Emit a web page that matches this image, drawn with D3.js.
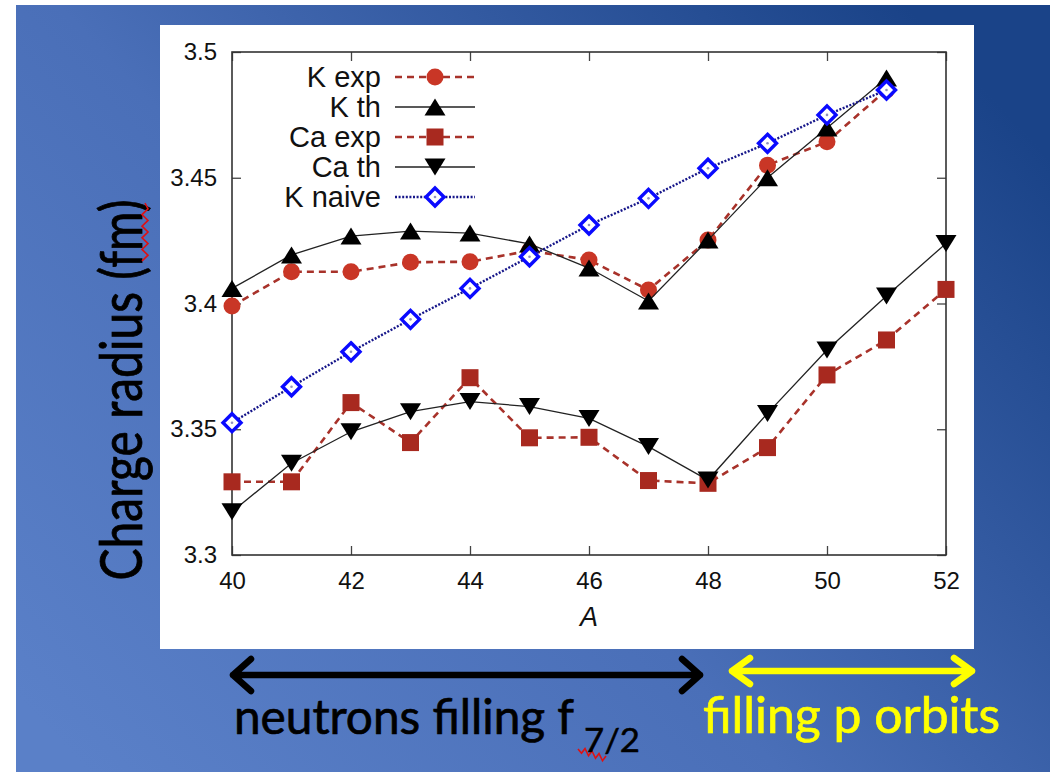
<!DOCTYPE html>
<html>
<head>
<meta charset="utf-8">
<script src="https://cdn.jsdelivr.net/npm/d3@7"></script>
<style>
  body { margin: 0; background: #fff; }
  svg { display: block; }
</style>
</head>
<body>
<svg id="chart" width="1050" height="772"></svg>
<script>
// mass numbers A
var kA  = [40, 41, 42, 43, 44, 45, 46, 47, 48, 49, 50, 51];
var caA = [40, 41, 42, 43, 44, 45, 46, 47, 48, 49, 50, 51, 52];

// charge radii (fm)
var kExp   = [3.399, 3.4126, 3.4126, 3.4164, 3.4166, 3.421, 3.4173, 3.4054, 3.4252, 3.455, 3.4643, 3.4849];
var kTh    = [3.406, 3.4193, 3.4268, 3.4288, 3.428, 3.4237, 3.4141, 3.401, 3.4252, 3.45, 3.4698, 3.4897];
var caExp  = [3.3291, 3.3291, 3.3606, 3.3447, 3.3705, 3.3466, 3.3468, 3.3296, 3.3285, 3.3427, 3.3716, 3.3855, 3.4056];
var caTh   = [3.3172, 3.3365, 3.349, 3.357, 3.361, 3.359, 3.3543, 3.3431, 3.3298, 3.3563, 3.3815, 3.403, 3.4239];
var kNaive = [3.3526, 3.3669, 3.3808, 3.3937, 3.406, 3.4186, 3.4312, 3.4418, 3.4538, 3.4637, 3.475, 3.4849];

var xTicks = [40, 42, 44, 46, 48, 50, 52];
var yTicks = [3.3, 3.35, 3.4, 3.45, 3.5];
var yTickLabels = ["3.3", "3.35", "3.4", "3.45", "3.5"];
var legendNames = ["K exp", "K th", "Ca exp", "Ca th", "K naive"];

/*
 * series styles, in gnuplot drawing order
 */
var series = [
  { name: legendNames[0], a: kA,  v: kExp,   marker: "circle",  line: "dash" },
  { name: legendNames[1], a: kA,  v: kTh,    marker: "up",      line: "solid" },
  { name: legendNames[2], a: caA, v: caExp,  marker: "square",  line: "dash" },
  { name: legendNames[3], a: caA, v: caTh,   marker: "down",    line: "solid" },
  { name: legendNames[4], a: kA,  v: kNaive, marker: "diamond", line: "dot" }
];

var lineStyle = {
  dash:  { stroke: "#a8322a", width: 2.6, dash: "7,5" },
  solid: { stroke: "#222",    width: 1.3, dash: null },
  dot:   { stroke: "#16168a", width: 2.4, dash: "2,1.6" }
};

var svg = d3.select("#chart");

// slide background
var defs = svg.append("defs");
var grad = defs.append("linearGradient").attr("id", "slide")
  .attr("x1", 0).attr("y1", 0.9).attr("x2", 1).attr("y2", 0.2);
grad.append("stop").attr("offset", 0).attr("stop-color", "#5a80c8");
grad.append("stop").attr("offset", 0.45).attr("stop-color", "#4a6fb8");
grad.append("stop").attr("offset", 1).attr("stop-color", "#1a4388");

svg.append("rect").attr("x", 16).attr("y", 5).attr("width", 1034).attr("height", 767)
  .attr("fill", "url(#slide)");

// white plot panel
svg.append("rect").attr("x", 160).attr("y", 25).attr("width", 814).attr("height", 624)
  .attr("fill", "#fff");

var margin = { left: 232, right: 946, top: 52, bottom: 555 };

var x = d3.scaleLinear().domain([40, 52]).range([margin.left, margin.right]);
var y = d3.scaleLinear().domain([3.3, 3.5]).range([margin.bottom, margin.top]);

var g = svg.append("g").attr("font-family", "'Liberation Sans', Arial, sans-serif");

// axes with inward ticks on all four sides
function styleAxis(sel) {
  sel.select(".domain").remove();
  sel.selectAll(".tick line").attr("stroke", "#444").attr("stroke-width", 1.3);
  sel.selectAll(".tick text").attr("fill", "#111").attr("font-size", 24);
}

g.append("g").attr("transform", "translate(0," + margin.bottom + ")")
  .call(d3.axisBottom(x).tickValues(xTicks).tickFormat(d3.format("d"))
    .tickSizeInner(-9).tickSizeOuter(0).tickPadding(17))
  .call(styleAxis);

g.append("g").attr("transform", "translate(0," + margin.top + ")")
  .call(d3.axisTop(x).tickValues(xTicks).tickFormat("")
    .tickSizeInner(-9).tickSizeOuter(0))
  .call(styleAxis);

g.append("g").attr("transform", "translate(" + margin.left + ",0)")
  .call(d3.axisLeft(y).tickValues(yTicks).tickFormat(function (d, i) { return yTickLabels[i]; })
    .tickSizeInner(-9).tickSizeOuter(0).tickPadding(15))
  .call(styleAxis);

g.append("g").attr("transform", "translate(" + margin.right + ",0)")
  .call(d3.axisRight(y).tickValues(yTicks).tickFormat("")
    .tickSizeInner(-9).tickSizeOuter(0))
  .call(styleAxis);

g.append("rect")
  .attr("x", margin.left).attr("y", margin.top)
  .attr("width", margin.right - margin.left).attr("height", margin.bottom - margin.top)
  .attr("fill", "none").attr("stroke", "#333").attr("stroke-width", 1.6);

g.append("text")
  .attr("x", (margin.left + margin.right) / 2).attr("y", 626)
  .attr("text-anchor", "middle").attr("font-size", 27).attr("font-style", "italic")
  .attr("fill", "#111").text("A");

// markers
function drawMarker(sel, type, cx, cy) {
  if (type == "circle") {
    sel.append("circle").attr("cx", cx).attr("cy", cy).attr("r", 8.5).attr("fill", "#c93626");
  } else if (type == "square") {
    sel.append("rect").attr("x", cx - 8.5).attr("y", cy - 8.5).attr("width", 17).attr("height", 17)
      .attr("fill", "#a8291f");
  } else if (type == "up") {
    sel.append("path").attr("d", "M" + (cx - 10.5) + "," + (cy + 8.5) + "L" + cx + "," + (cy - 8.5)
      + "L" + (cx + 10.5) + "," + (cy + 8.5) + "Z").attr("fill", "#000");
  } else if (type == "down") {
    sel.append("path").attr("d", "M" + (cx - 10.5) + "," + (cy - 8.5) + "L" + cx + "," + (cy + 8.5)
      + "L" + (cx + 10.5) + "," + (cy - 8.5) + "Z").attr("fill", "#000");
  } else if (type == "diamond") {
    sel.append("path").attr("d", "M" + cx + "," + (cy - 9) + "L" + (cx + 9) + "," + cy
      + "L" + cx + "," + (cy + 9) + "L" + (cx - 9) + "," + cy + "Z")
      .attr("fill", "#fff").attr("stroke", "#0a0aff").attr("stroke-width", 3.4);
    sel.append("circle").attr("cx", cx).attr("cy", cy).attr("r", 1.3).attr("fill", "#9090c0");
  }
}

var line = d3.line();
var plot = g.append("g");

series.forEach(function (s) {
  var st = lineStyle[s.line];
  var pts = s.a.map(function (a, i) { return [x(a), y(s.v[i])]; });
  plot.append("path").attr("d", line(pts)).attr("fill", "none")
    .attr("stroke", st.stroke).attr("stroke-width", st.width)
    .attr("stroke-dasharray", st.dash);
  var mg = plot.append("g");
  pts.forEach(function (p) { drawMarker(mg, s.marker, p[0], p[1]); });
});

// legend
var legend = g.append("g");
series.forEach(function (s, i) {
  var ly = 77 + i * 30;
  var st = lineStyle[s.line];
  legend.append("text").attr("x", 381).attr("y", ly).attr("dy", "0.35em")
    .attr("text-anchor", "end").attr("font-size", 29).attr("fill", "#111").text(s.name);
  legend.append("line").attr("x1", 395).attr("x2", 475).attr("y1", ly).attr("y2", ly)
    .attr("stroke", st.stroke).attr("stroke-width", st.width).attr("stroke-dasharray", st.dash);
  drawMarker(legend, s.marker, 435, ly);
});

// slide annotations
var slideFont = "Lato, 'Open Sans', sans-serif";

svg.append("text")
  .attr("transform", "translate(142,390) rotate(-90)")
  .attr("text-anchor", "middle").attr("font-family", slideFont).attr("font-size", 58)
  .attr("textLength", 381).attr("lengthAdjust", "spacingAndGlyphs")
  .attr("fill", "#000").attr("stroke", "#000").attr("stroke-width", 0.8)
  .text("Charge radius (fm)");

function zigzag(x0, y0, dx, dy, n, amp, horiz) {
  var p = "M" + x0 + "," + y0;
  for (var i = 1; i <= n; i++) {
    var t = i / n, s = (i % 2 ? amp : -amp);
    var px = x0 + dx * t + (horiz ? 0 : s), py = y0 + dy * t + (horiz ? s : 0);
    p += "L" + px + "," + py;
  }
  return p;
}
svg.append("path").attr("d", zigzag(145, 203, 0, 58, 10, 3, false))
  .attr("fill", "none").attr("stroke", "#e01010").attr("stroke-width", 1.6);
svg.append("path").attr("d", zigzag(578, 749, 28, 10, 8, 3, true))
  .attr("fill", "none").attr("stroke", "#e01010").attr("stroke-width", 1.6);

function doubleArrow(x1, x2, yy, h, w, color) {
  svg.append("path")
    .attr("d", "M" + x1 + "," + yy + "L" + x2 + "," + yy
      + "M" + (x1 + w) + "," + (yy - h) + "L" + x1 + "," + yy + "L" + (x1 + w) + "," + (yy + h)
      + "M" + (x2 - w) + "," + (yy - h) + "L" + x2 + "," + yy + "L" + (x2 - w) + "," + (yy + h))
    .attr("fill", "none").attr("stroke", color).attr("stroke-width", 6.5)
    .attr("stroke-linecap", "round").attr("stroke-linejoin", "round");
}
doubleArrow(233, 700, 675, 16, 18, "#000");
doubleArrow(732, 972, 671, 13, 18, "#ffff00");

svg.append("text").attr("x", 234).attr("y", 734)
  .attr("font-family", slideFont).attr("font-size", 48).attr("fill", "#000")
  .attr("stroke", "#000").attr("stroke-width", 0.7)
  .attr("textLength", 340).attr("lengthAdjust", "spacingAndGlyphs").text("neutrons filling f");
svg.append("text").attr("x", 584).attr("y", 752)
  .attr("font-family", slideFont).attr("font-size", 33).attr("fill", "#000")
  .attr("stroke", "#000").attr("stroke-width", 0.5)
  .attr("textLength", 56).attr("lengthAdjust", "spacingAndGlyphs").text("7/2");

svg.append("text").attr("x", 703).attr("y", 733)
  .attr("font-family", slideFont).attr("font-size", 51).attr("fill", "#ffff00")
  .attr("stroke", "#ffff00").attr("stroke-width", 0.7)
  .attr("textLength", 297).attr("lengthAdjust", "spacingAndGlyphs").text("filling p orbits");
</script>
</body>
</html>
